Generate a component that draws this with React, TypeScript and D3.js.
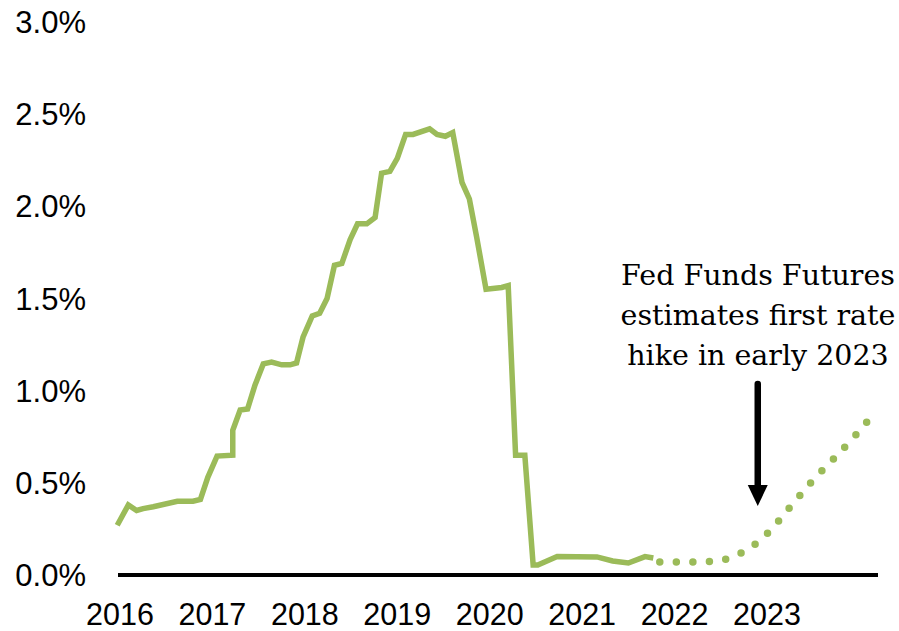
import React, { useLayoutEffect, useRef, useState } from "react";
import * as d3 from "d3";

// Historical effective fed funds rate (fractional year, percent)
const histTimes = [
  2015.97, 2016.09, 2016.18, 2016.25, 2016.36, 2016.62, 2016.79, 2016.87,
  2016.95, 2017.05, 2017.22, 2017.22, 2017.3, 2017.38, 2017.46, 2017.55,
  2017.64, 2017.75, 2017.84, 2017.91, 2017.98, 2018.08, 2018.16, 2018.24,
  2018.32, 2018.4, 2018.49, 2018.57, 2018.67, 2018.76, 2018.83, 2018.92,
  2019.0, 2019.09, 2019.17, 2019.35, 2019.43, 2019.52, 2019.6, 2019.7,
  2019.78, 2019.86, 2019.96, 2020.13, 2020.2, 2020.28, 2020.38, 2020.47,
  2020.52, 2020.73, 2021.16, 2021.33, 2021.5, 2021.68, 2021.77,
];
const histValues = [
  0.27, 0.38, 0.35, 0.36, 0.37, 0.4, 0.4, 0.41,
  0.53, 0.645, 0.65, 0.785, 0.895, 0.9, 1.03, 1.145,
  1.155, 1.14, 1.14, 1.15, 1.29, 1.405, 1.42, 1.5,
  1.68, 1.69, 1.82, 1.905, 1.905, 1.94, 2.18, 2.19,
  2.26, 2.39, 2.39, 2.42, 2.39, 2.38, 2.4, 2.13,
  2.04, 1.83, 1.55, 1.56, 1.57, 0.65, 0.65, 0.054,
  0.054, 0.1, 0.098, 0.076, 0.065, 0.1, 0.092,
];

// Fed funds futures projection
const projTimes = [2021.84, 2022.0, 2022.25, 2022.5, 2022.74, 2022.89, 2023.02, 2023.25, 2023.49, 2023.74, 2023.97, 2024.08];
const projValues = [0.07, 0.07, 0.07, 0.08, 0.125, 0.174, 0.233, 0.369, 0.51, 0.64, 0.765, 0.83];

const yTicks = [0, 0.5, 1.0, 1.5, 2.0, 2.5, 3.0];
const xYears = [2016, 2017, 2018, 2019, 2020, 2021, 2022, 2023];
const annotationLines = ["Fed Funds Futures", "estimates first rate", "hike in early 2023"];
const annotationTime = 2022.9;

export default function App() {
  const W = 899;
  const H = 631;
  const x = d3.scaleLinear().domain([2016, 2023]).range([120, 767]);
  const y = d3.scaleLinear().domain([0, 3]).range([575, 22]);
  const green = "#9BBB59";

  const projRef = useRef<SVGPathElement>(null);
  const [dash, setDash] = useState("0 16.6");

  const hist = histTimes.map((t, i) => [t, histValues[i]] as [number, number]);
  const proj = projTimes.map((t, i) => [t, projValues[i]] as [number, number]);

  const histLine = d3
    .line<[number, number]>()
    .x((d) => x(d[0]))
    .y((d) => y(d[1]))(hist) as string;
  const projLine = d3
    .line<[number, number]>()
    .x((d) => x(d[0]))
    .y((d) => y(d[1]))
    .curve(d3.curveMonotoneX)(proj) as string;

  useLayoutEffect(() => {
    if (projRef.current) {
      const L = projRef.current.getTotalLength();
      const n = Math.max(1, Math.round(L / 16.6));
      setDash(`0 ${(L / n - 0.02).toFixed(3)}`);
    }
  }, [projLine]);

  const ax = x(annotationTime);
  const font = "'Liberation Sans', Arial, sans-serif";

  return (
    <div style={{ position: "absolute", left: 0, top: 0 }}>
      <svg width={W} height={H} style={{ display: "block", background: "#fff" }}>
        {yTicks.map((v) => (
          <text
            key={v}
            x={86}
            y={y(v)}
            dy="0.36em"
            textAnchor="end"
            fontFamily={font}
            fontSize={31}
            fill="#000"
          >
            {v.toFixed(1) + "%"}
          </text>
        ))}
        {xYears.map((yr) => (
          <text
            key={yr}
            x={x(yr)}
            y={625}
            textAnchor="middle"
            fontFamily={font}
            fontSize={30.5}
            fill="#000"
          >
            {yr}
          </text>
        ))}
        <path d={histLine} fill="none" stroke={green} strokeWidth={5.5} strokeLinejoin="miter" />
        <path
          ref={projRef}
          d={projLine}
          fill="none"
          stroke={green}
          strokeWidth={7.5}
          strokeLinecap="round"
          strokeDasharray={dash}
        />
        <line x1={118} x2={878} y1={y(0)} y2={y(0)} stroke="#000" strokeWidth={4} />
        {annotationLines.map((s, i) => (
          <text
            key={i}
            x={758}
            y={285 + i * 40}
            textAnchor="middle"
            fontFamily="'DejaVu Serif', 'Liberation Serif', serif"
            fontSize={28.5}
            fill="#000"
          >
            {s}
          </text>
        ))}
        <line x1={ax} x2={ax} y1={384} y2={488} stroke="#000" strokeWidth={6.5} strokeLinecap="round" />
        <path d={`M${ax - 10},${485} L${ax + 10},${485} L${ax},${506} Z`} fill="#000" />
      </svg>
    </div>
  );
}
